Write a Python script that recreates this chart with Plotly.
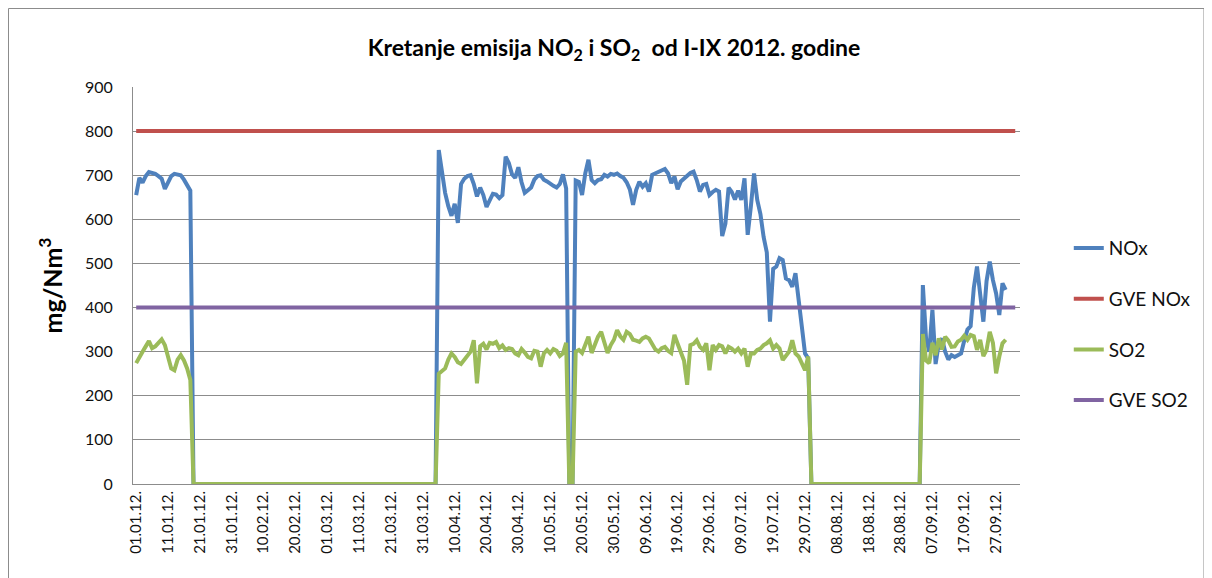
"""
Daily NOx / SO2 emissions, Jan-Sep 2012, with emission limit lines (GVE).
"""
import pandas as pd
import plotly.graph_objects as go

# Daily values in mg/Nm3, one row of the list per 10 days, starting 01.01.2012
NOX = [
    655, 694, 683, 698, 707, 706, 703, 698, 692, 669,
    685, 698, 703, 702, 700, 690, 678, 665, 0, 0,
    0, 0, 0, 0, 0, 0, 0, 0, 0, 0,
    0, 0, 0, 0, 0, 0, 0, 0, 0, 0,
    0, 0, 0, 0, 0, 0, 0, 0, 0, 0,
    0, 0, 0, 0, 0, 0, 0, 0, 0, 0,
    0, 0, 0, 0, 0, 0, 0, 0, 0, 0,
    0, 0, 0, 0, 0, 0, 0, 0, 0, 0,
    0, 0, 0, 0, 0, 0, 0, 0, 0, 0,
    0, 0, 0, 0, 0, 757, 705, 660, 630, 608,
    635, 592, 680, 692, 698, 700, 680, 652, 672, 655,
    628, 642, 658, 656, 648, 655, 742, 728, 702, 694,
    718, 684, 660, 666, 672, 690, 698, 700, 690, 686,
    680, 676, 672, 680, 702, 670, 0, 0, 688, 685,
    655, 704, 735, 689, 682, 689, 691, 701, 697, 703,
    701, 704, 698, 694, 684, 668, 633, 667, 685, 674,
    682, 663, 701, 704, 708, 710, 714, 704, 682, 697,
    668, 686, 693, 700, 705, 708, 689, 663, 678, 680,
    655, 662, 667, 663, 562, 590, 672, 662, 645, 665,
    644, 693, 565, 629, 704, 644, 612, 560, 525, 368,
    488, 493, 512, 508, 466, 462, 447, 478, 425, 357,
    296, 285, 0, 0, 0, 0, 0, 0, 0, 0,
    0, 0, 0, 0, 0, 0, 0, 0, 0, 0,
    0, 0, 0, 0, 0, 0, 0, 0, 0, 0,
    0, 0, 0, 0, 0, 0, 0, 451, 330, 300,
    395, 272, 318, 330, 300, 282, 292, 288, 292, 296,
    325, 350, 358, 445, 493, 420, 368, 460, 504, 462,
    432, 383, 455, 440,
]

SO2 = [
    274, 285, 300, 312, 324, 308, 312, 320, 328, 315,
    285, 262, 258, 282, 292, 280, 262, 236, 0, 0,
    0, 0, 0, 0, 0, 0, 0, 0, 0, 0,
    0, 0, 0, 0, 0, 0, 0, 0, 0, 0,
    0, 0, 0, 0, 0, 0, 0, 0, 0, 0,
    0, 0, 0, 0, 0, 0, 0, 0, 0, 0,
    0, 0, 0, 0, 0, 0, 0, 0, 0, 0,
    0, 0, 0, 0, 0, 0, 0, 0, 0, 0,
    0, 0, 0, 0, 0, 0, 0, 0, 0, 0,
    0, 0, 0, 0, 0, 250, 256, 262, 282, 296,
    288, 276, 272, 282, 292, 300, 326, 228, 312, 318,
    305, 320, 318, 322, 308, 314, 304, 308, 306, 296,
    292, 306, 298, 288, 285, 302, 300, 266, 296, 304,
    296, 306, 302, 290, 296, 320, 0, 0, 300, 304,
    297, 315, 334, 297, 315, 334, 345, 320, 297, 315,
    327, 349, 335, 327, 345, 340, 327, 325, 322, 330,
    334, 330, 318, 305, 300, 308, 311, 302, 297, 338,
    318, 298, 280, 225, 315, 318, 326, 311, 304, 319,
    258, 315, 304, 315, 312, 296, 311, 307, 300, 307,
    296, 307, 266, 296, 296, 304, 307, 315, 319, 326,
    307, 315, 307, 281, 289, 300, 326, 296, 289, 273,
    258, 289, 0, 0, 0, 0, 0, 0, 0, 0,
    0, 0, 0, 0, 0, 0, 0, 0, 0, 0,
    0, 0, 0, 0, 0, 0, 0, 0, 0, 0,
    0, 0, 0, 0, 0, 0, 0, 340, 280, 274,
    320, 292, 330, 305, 334, 325, 311, 312, 323, 327,
    336, 327, 338, 335, 304, 327, 290, 304, 345, 320,
    251, 289, 319, 327,
]

# Emission limit values (GVE), constant over the whole axis
GVE_NOX = 800
GVE_SO2 = 400

# Category axis runs a few days past the last measurement
DATES = pd.date_range("2012-01-01", periods=277, freq="D")
TICK_DATES = DATES[:271:10]
TICK_TEXT = [d.strftime("%d.%m.%y.") for d in TICK_DATES]

FONT = "Lato, 'Open Sans', sans-serif"
GRID = "#8c8c8c"

# page body adds an 8px offset; plot area is 887 x 397 px
M_LEFT, M_TOP, PLOT_W, PLOT_H = 125, 79, 887, 397

fig = go.Figure()

series = [
    ("NOx", DATES[:len(NOX)], NOX, "#4f81bd"),
    ("GVE NOx", DATES, [GVE_NOX] * len(DATES), "#c0504d"),
    ("SO2", DATES[:len(SO2)], SO2, "#9bbb59"),
    ("GVE SO2", DATES, [GVE_SO2] * len(DATES), "#8064a2"),
]
for name, x, y, color in series:
    fig.add_trace(go.Scatter(
        x=x, y=y, name=name, mode="lines",
        line=dict(color=color, width=4),
        legendgroup=name,
    ))

fig.update_xaxes(
    range=["2011-12-31", "2012-10-04 12:00"],
    tickmode="array",
    tickvals=TICK_DATES,
    ticktext=TICK_TEXT,
    tickangle=-90,
    tickfont=dict(family=FONT, size=15, color="#111"),
    showgrid=False,
    showline=True,
    linecolor=GRID,
    linewidth=1,
    zeroline=False,
)
fig.update_yaxes(
    range=[0, 900],
    dtick=100,
    tickfont=dict(family=FONT, size=16, color="#111"),
    ticklabelstandoff=16,
    showgrid=True,
    gridcolor=GRID,
    gridwidth=1,
    showline=True,
    linecolor=GRID,
    linewidth=1,
    zeroline=False,
    title=dict(text="<b>mg/Nm<sup>3</sup></b>", font=dict(family=FONT, size=25, color="#000"), standoff=15),
)

# Outer chart-area frame
fig.add_shape(
    type="rect", xref="paper", yref="paper",
    x0=(0.5 - M_LEFT) / PLOT_W, x1=(1196 - M_LEFT) / PLOT_W,
    y0=(M_TOP + PLOT_H - 600) / PLOT_H, y1=(M_TOP + PLOT_H - 0.5) / PLOT_H,
    line=dict(color="#8c8c8c", width=1), fillcolor="rgba(0,0,0,0)",
    layer="below",
)

fig.update_layout(
    width=1212,
    height=578,
    margin=dict(l=M_LEFT, r=1212 - M_LEFT - PLOT_W, t=M_TOP, b=578 - M_TOP - PLOT_H),
    paper_bgcolor="white",
    plot_bgcolor="white",
    title=dict(
        text="<b>Kretanje emisija NO<sub>2</sub> i SO<sub>2</sub>  od I-IX 2012. godine</b>",
        x=0.5, xanchor="center", xref="container",
        y=0.931, yanchor="middle", yref="container",
        font=dict(family=FONT, size=23, color="#000"),
    ),
    showlegend=True,
    legend=dict(
        x=1.055, xanchor="left", y=0.642, yanchor="top",
        font=dict(family=FONT, size=19, color="#111"),
        traceorder="grouped",
        tracegroupgap=23,
        bgcolor="rgba(0,0,0,0)",
    ),
)

fig.write_html("out.html")
